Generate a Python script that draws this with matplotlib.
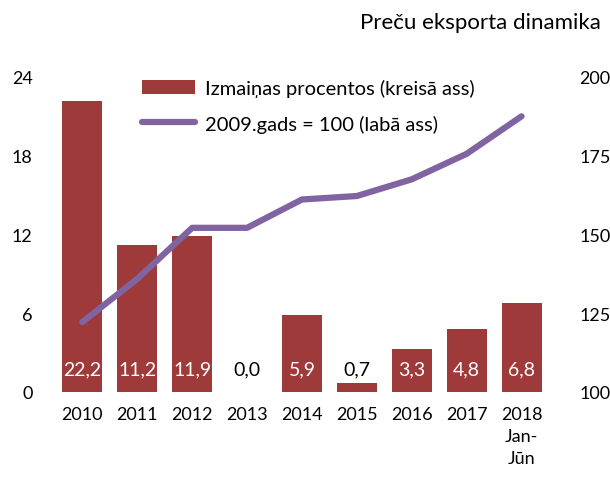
import matplotlib.pyplot as plt
import numpy as np

plt.rcParams["font.family"] = ["Lato", "DejaVu Sans"]

years = ["2010", "2011", "2012", "2013", "2014", "2015", "2016", "2017", "2018\nJan-\nJūn"]
change_pct = [22.2, 11.2, 11.9, 0.0, 5.9, 0.7, 3.3, 4.8, 6.8]
index_2009 = [122.2, 135.9, 152.1, 152.1, 161.1, 162.2, 167.5, 175.6, 187.5]

bar_color = "#9e3a3a"
line_color = "#8064a2"

fig = plt.figure(figsize=(6.1, 4.81), dpi=100)
ax = fig.add_axes([0.09, 0.183, 0.81, 0.655])
x = np.arange(len(years))

bars = ax.bar(x, change_pct, width=0.73, color=bar_color, label="Izmaiņas procentos (kreisā ass)", zorder=2)
ax.set_ylim(0, 24)
ax.set_yticks([0, 6, 12, 18, 24])
ax.set_xlim(-0.5, len(years) - 0.5)
ax.set_xticks(x)
ax.set_xticklabels(years, fontsize=13, linespacing=1.45)

for xi, v in zip(x, change_pct):
    col = "white" if v > 2 else "black"
    ax.text(xi, 1.75, f"{v:.1f}".replace(".", ","), ha="center", va="center",
            color=col, fontsize=14, zorder=4)

ax2 = ax.twinx()
ax2.plot(x, index_2009, color=line_color, lw=4.5, solid_capstyle="round",
         label="2009.gads = 100 (labā ass)", zorder=3)
ax2.set_ylim(100, 200)
ax2.set_yticks([100, 125, 150, 175, 200])

for a in (ax, ax2):
    for s in a.spines.values():
        s.set_visible(False)
    a.tick_params(length=0, labelsize=13)
ax.tick_params(axis="y", pad=16)
ax2.tick_params(axis="y", pad=22)
ax.tick_params(axis="x", pad=10)

h1, l1 = ax.get_legend_handles_labels()
h2, l2 = ax2.get_legend_handles_labels()
ax2.legend(h1 + h2, l1 + l2, loc="upper left", bbox_to_anchor=(0.14, 1.05),
           frameon=False, fontsize=14.5, handlelength=2.6, labelspacing=0.85,
           handletextpad=0.5)

fig.text(0.985, 0.953, "Preču eksporta dinamika", ha="right", va="center", fontsize=16)

fig.savefig("out.png", dpi=100)
